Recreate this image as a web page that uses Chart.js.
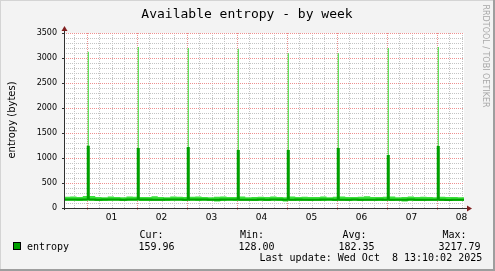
<!DOCTYPE html>
<html><head><meta charset="utf-8">
<script src="https://cdn.jsdelivr.net/npm/chart.js@4.4.0/dist/chart.umd.min.js"></script>
<style>html,body{margin:0;padding:0;background:#f3f3f3;overflow:hidden}#wrap{width:495px;height:271px;position:relative}</style>
</head><body><div id="wrap"><canvas id="c" width="495" height="271"></canvas></div>
<script>
const chartTitle = 'Available entropy - by week';
const yAxisLabel = 'entropy (bytes)';
const watermark = 'RRDTOOL / TOBI OETIKER';
const dayLabels = ['01','02','03','04','05','06','07','08'];
const dayNoonHours = [12,36,60,84,108,132,156,180];
const yTickStep = 500;
const yMax = 3500;
// hours relative to Oct 1 00:00; one baseline sample every 3 hours
const startHour = -10.8;
const stepHours = 3;
const avgBase = [172,170,168,171,169,167,170,172,168,166,
  169,171,168,170,167,165,169,170,168,166,
  170,172,169,167,165,168,170,168,166,164,
  167,169,166,168,170,167,165,168,166,164,
  167,169,168,166,165,167,169,166,164,166,
  168,167,165,163,166,168,165,164,166,163,
  165,162,164,163,160];
const maxBase = [225,230,218,238,242,222,216,228,220,214,
  230,226,218,222,234,220,216,228,224,218,
  226,232,220,216,224,228,218,222,230,216,
  220,226,218,232,222,216,228,220,226,218,
  222,230,216,224,228,218,222,226,234,220,
  218,224,228,216,222,230,218,226,220,216,
  224,218,222,216,212];
const minBase = [145,143,141,145,147,142,140,144,146,141,
  143,145,142,140,144,146,141,143,145,142,
  144,141,143,145,128,142,144,141,145,143,
  140,144,142,145,141,128,143,141,144,142,
  145,141,143,140,144,142,145,141,143,146,
  142,144,141,143,128,145,142,141,144,143,
  141,144,142,140,145];
const spikeHours = [0.6,24.6,48.6,72.6,96.6,120.6,144.6,168.6];
const spikeLength = 0.5;
const spikeAvg = [1226,1180,1200,1140,1140,1180,1040,1222];
const spikeMax = [3126,3220,3200,3180,3093,3093,3200,3218];
const spikeMin = [160,160,160,160,160,160,160,160];
const seriesName = 'entropy';
const statLabels = ['Cur:','Min:','Avg:','Max:'];
const statValues = ['159.96','128.00','182.35','3217.79'];
const lastUpdate = 'Last update: Wed Oct  8 13:10:02 2025';

const endHour = startHour + (avgBase.length - 1) * stepHours;

function buildSeries(base, spikes) {
  const pts = base.map((v, i) => ({x: startHour + i * stepHours, y: v}));
  spikeHours.forEach((h, k) => {
    const after = h + spikeLength;
    const idx = Math.floor((after - startHour) / stepHours);
    pts.push({x: h, y: spikes[k]});
    pts.push({x: after, y: base[idx]});
  });
  pts.sort((a, b) => a.x - b.x);
  return pts;
}

const LIGHT = '#3be03b', DARK = '#00a000';
const MONO = '"DejaVu Sans Mono", monospace';
const SANS = '"DejaVu Sans", sans-serif';

const rrdPlugin = {
  id: 'rrd',
  beforeDraw(chart) {
    const ctx = chart.ctx, a = chart.chartArea, W = chart.width, H = chart.height;
    const xs = chart.scales.x, ys = chart.scales.y;
    ctx.save();
    ctx.fillStyle = '#f3f3f3'; ctx.fillRect(0, 0, W, H);
    ctx.fillStyle = '#d4d4d4'; ctx.fillRect(0, 0, W, 1); ctx.fillRect(0, 0, 1, H);
    ctx.fillStyle = '#9e9e9e'; ctx.fillRect(0, H - 2, W, 2); ctx.fillRect(W - 2, 0, 2, H);
    ctx.fillStyle = '#ffffff'; ctx.fillRect(a.left, a.top, a.right - a.left, a.bottom - a.top);
    ctx.lineWidth = 1;
    ctx.setLineDash([1, 1]);
    ctx.strokeStyle = '#c4c4c4';
    for (let v = 100; v <= yMax; v += 100) {
      if (v % yTickStep === 0) continue;
      const y = Math.round(ys.getPixelForValue(v)) + 0.5;
      ctx.beginPath(); ctx.moveTo(a.left, y); ctx.lineTo(a.right, y); ctx.stroke();
    }
    for (let h = Math.ceil(startHour / 6) * 6; h <= endHour; h += 6) {
      if (h % 24 === 0) continue;
      const x = Math.round(xs.getPixelForValue(h)) + 0.5;
      ctx.beginPath(); ctx.moveTo(x, a.top); ctx.lineTo(x, a.bottom); ctx.stroke();
    }
    ctx.strokeStyle = '#ee9090';
    for (let v = yTickStep; v <= yMax; v += yTickStep) {
      const y = Math.round(ys.getPixelForValue(v)) + 0.5;
      ctx.beginPath(); ctx.moveTo(a.left, y); ctx.lineTo(a.right, y); ctx.stroke();
    }
    for (let h = Math.ceil(startHour / 24) * 24; h <= endHour; h += 24) {
      const x = Math.round(xs.getPixelForValue(h)) + 0.5;
      ctx.beginPath(); ctx.moveTo(x, a.top); ctx.lineTo(x, a.bottom + 3); ctx.stroke();
    }
    ctx.restore();
  },
  afterDatasetsDraw(chart) {
    const ctx = chart.ctx, a = chart.chartArea, ys = chart.scales.y;
    ctx.save();
    const ax = Math.round(a.left) + 0.5, ay = Math.round(a.bottom) + 0.5;
    ctx.strokeStyle = '#303030'; ctx.lineWidth = 1;
    ctx.beginPath(); ctx.moveTo(a.left - 2, ay); ctx.lineTo(a.right + 3, ay); ctx.stroke();
    ctx.beginPath(); ctx.moveTo(ax, a.bottom + 2); ctx.lineTo(ax, a.top - 3); ctx.stroke();
    for (let v = 0; v <= yMax; v += yTickStep) {
      const y = Math.round(ys.getPixelForValue(v)) + 0.5;
      ctx.beginPath(); ctx.moveTo(a.left - 2, y); ctx.lineTo(a.left, y); ctx.stroke();
    }
    ctx.fillStyle = '#801f1f';
    ctx.beginPath(); ctx.moveTo(ax, a.top - 7); ctx.lineTo(ax - 3, a.top - 2); ctx.lineTo(ax + 3, a.top - 2); ctx.closePath(); ctx.fill();
    ctx.beginPath(); ctx.moveTo(a.right + 8, ay); ctx.lineTo(a.right + 3, ay - 3); ctx.lineTo(a.right + 3, ay + 3); ctx.closePath(); ctx.fill();
    ctx.restore();
  },
  afterDraw(chart) {
    const ctx = chart.ctx;
    ctx.save();
    ctx.fillStyle = '#000';
    ctx.textBaseline = 'alphabetic';
    ctx.font = '13px ' + MONO; ctx.textAlign = 'center';
    ctx.fillText(chartTitle, 247, 18);
    ctx.save();
    ctx.translate(15, 120); ctx.rotate(-Math.PI / 2);
    ctx.font = '10px ' + SANS; ctx.textAlign = 'center';
    ctx.fillText(yAxisLabel, 0, 0);
    ctx.restore();
    ctx.save();
    ctx.translate(483, 56); ctx.rotate(Math.PI / 2);
    ctx.font = '8px ' + SANS; ctx.textAlign = 'center'; ctx.fillStyle = '#a8a8a8';
    ctx.fillText(watermark, 0, 0);
    ctx.restore();
    ctx.font = '10px ' + MONO; ctx.textAlign = 'left';
    const labX = [139.5, 240, 342.5, 442.5];
    const valX = [138.5, 238.5, 338.5, 438.5];
    statLabels.forEach((s, i) => ctx.fillText(s, labX[i], 237.5));
    statValues.forEach((s, i) => ctx.fillText(s, valX[i], 249.5));
    ctx.fillText(seriesName, 27, 249.5);
    ctx.fillText(lastUpdate, 259.5, 261);
    ctx.fillStyle = DARK; ctx.fillRect(13, 242, 8, 8);
    ctx.strokeStyle = '#000'; ctx.lineWidth = 1; ctx.strokeRect(13.5, 242.5, 7, 7);
    ctx.restore();
  }
};

new Chart(document.getElementById('c'), {
  type: 'line',
  data: {
    datasets: [
      {label: 'avg', data: buildSeries(avgBase, spikeAvg), stepped: 'before', borderColor: DARK, borderWidth: 2, pointRadius: 0, fill: false},
      {label: 'max', data: buildSeries(maxBase, spikeMax), stepped: 'before', borderColor: LIGHT, borderWidth: 0, pointRadius: 0, fill: '+1', backgroundColor: LIGHT},
      {label: 'min', data: buildSeries(minBase, spikeMin), stepped: 'before', borderColor: LIGHT, borderWidth: 0, pointRadius: 0, fill: false}
    ]
  },
  options: {
    responsive: false, animation: false, devicePixelRatio: 1,
    layout: {padding: {left: 0, right: 31, top: 33, bottom: 33}},
    plugins: {legend: {display: false}, tooltip: {enabled: false}, title: {display: false}},
    scales: {
      x: {
        type: 'linear', min: startHour, max: endHour,
        grid: {display: false, drawTicks: false}, border: {display: false},
        afterBuildTicks: s => { s.ticks = dayNoonHours.map(v => ({value: v})); },
        afterFit: s => { s.height = 30; },
        ticks: {autoSkip: false, maxRotation: 0, padding: 4, color: '#000', font: {family: SANS, size: 9},
          callback: v => dayLabels[dayNoonHours.indexOf(v)]}
      },
      y: {
        min: 0, max: yMax,
        grid: {display: false, drawTicks: false}, border: {display: false},
        afterFit: s => { s.width = 64; },
        ticks: {stepSize: yTickStep, padding: 7, color: '#000', font: {family: SANS, size: 8},
          callback: v => String(v)}
      }
    }
  },
  plugins: [rrdPlugin]
});
</script></body></html>
